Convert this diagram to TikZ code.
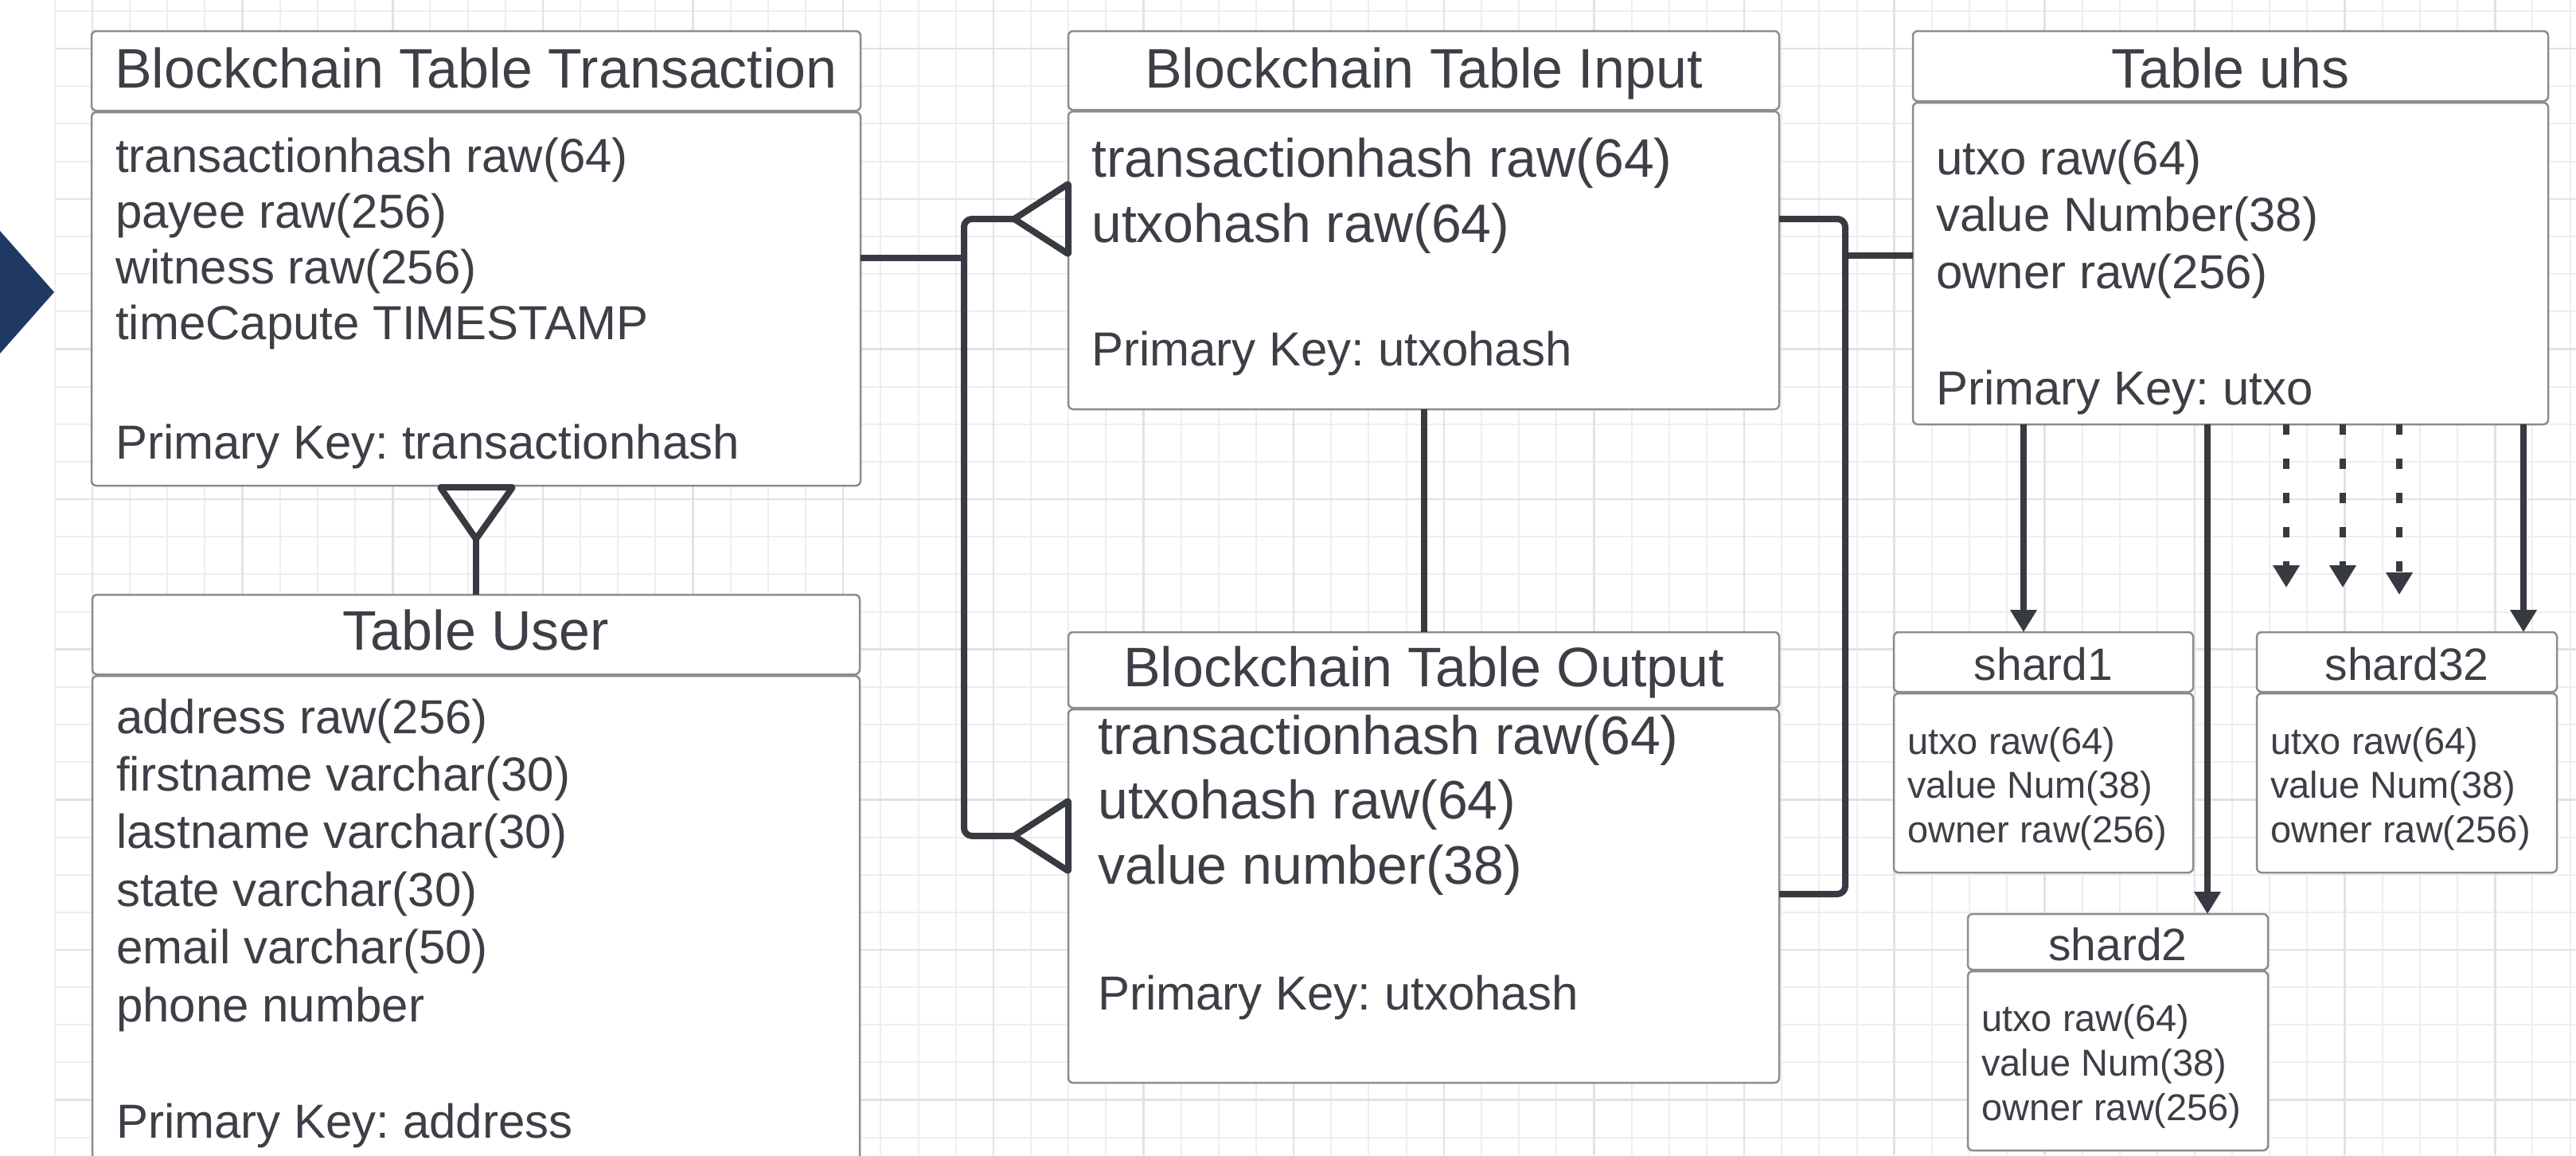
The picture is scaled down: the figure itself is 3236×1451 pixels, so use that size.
\documentclass[tikz,border=0pt]{standalone}
\usepackage{fontspec}
\setmainfont{Liberation Sans}
\usetikzlibrary{arrows.meta}
\frenchspacing

\definecolor{ink}{RGB}{60,63,70}
\definecolor{linecol}{RGB}{55,58,65}
\definecolor{boxline}{RGB}{140,140,140}
\definecolor{gridminor}{RGB}{238,238,238}
\definecolor{gridmajor}{RGB}{226,226,226}
\definecolor{navy}{RGB}{31,56,100}

\tikzset{
  tbox/.style={draw=boxline, line width=2.5pt, fill=white, rounded corners=6pt,
    anchor=north west, inner sep=0pt, outer sep=0pt},
  ttl/.style={text=ink, anchor=base, inner sep=0pt, font=\fontsize{70}{84}\selectfont},
  fld/.style={text=ink, anchor=base west, inner sep=0pt, font=\fontsize{60}{72}\selectfont},
  fldL/.style={fld, font=\fontsize{68}{82}\selectfont},
  sttl/.style={ttl, font=\fontsize{57}{68}\selectfont},
  sfld/.style={fld, font=\fontsize{47}{56}\selectfont},
  conn/.style={draw=linecol, line width=8pt, rounded corners=10pt, line join=round},
  crow/.style={conn, rounded corners=1pt},
  arr/.style={conn, -{Triangle[width=32pt,length=28pt]}},
  darr/.style={arr, dash pattern=on 13pt off 30pt},
}

\begin{document}
\begin{tikzpicture}[x=1pt, y=-1pt]
\useasboundingbox (0,0) rectangle (3236,1451);
\clip (0,0) rectangle (3236,1451);
\fill[white] (0,0) rectangle (3236,1451);

% background grid
\foreach \k in {-1,...,66}
  \draw[gridminor, line width=2pt] ({116+47.16*\k},0) -- ({116+47.16*\k},1451);
\foreach \k in {0,...,30}
  \draw[gridminor, line width=2pt] (69,{14+47.16*\k}) -- (3236,{14+47.16*\k});
\foreach \m in {0,...,16}
  \draw[gridmajor, line width=2.5pt] ({116+188.64*\m},0) -- ({116+188.64*\m},1451);
\foreach \m in {0,...,7}
  \draw[gridmajor, line width=2.5pt] (69,{61.16+188.64*\m}) -- (3236,{61.16+188.64*\m});

% navigation chevron at the left edge
\fill[navy] (0,290) -- (68,367) -- (0,444) -- cycle;

% ---- Blockchain Table Transaction
\node[tbox, minimum width=966pt, minimum height=100pt] (tx-h) at (115,39) {};
\node[tbox, minimum width=966pt, minimum height=469pt] (tx-b) at (115,141) {};
\node[ttl] (tx-t) at (tx-h.center |- 0,110) {Blockchain Table Transaction};
\foreach \t [count=\i from 0] in {transactionhash raw(64), payee raw(256), witness raw(256), timeCapute TIMESTAMP}
  \node[fld] (tx-f\i) at (145,{216+70.3*\i}) {\t};
\node[fld] (tx-pk) at (145,576) {Primary Key: transactionhash};

% ---- Table User
\node[tbox, minimum width=964pt, minimum height=100pt] (us-h) at (116,747) {};
\node[tbox, minimum width=964pt, minimum height=700pt] (us-b) at (116,849) {};
\node[ttl] (us-t) at (us-h.center |- 0,816) {Table User};
\foreach \t [count=\i from 0] in {address raw(256), firstname varchar(30), lastname varchar(30), state varchar(30), email varchar(50), phone number}
  \node[fld] (us-f\i) at (146,{921+72.4*\i}) {\t};
\node[fld] (us-pk) at (146,1429) {Primary Key: address};

% ---- Blockchain Table Input
\node[tbox, minimum width=893pt, minimum height=99pt] (in-h) at (1342,39) {};
\node[tbox, minimum width=893pt, minimum height=374pt] (in-b) at (1342,140) {};
\node[ttl] (in-t) at (in-h.center |- 0,110) {Blockchain Table Input};
\foreach \t [count=\i from 0] in {transactionhash raw(64), utxohash raw(64)}
  \node[fldL] (in-f\i) at (1371,{222+82*\i}) {\t};
\node[fld] (in-pk) at (1371,459) {Primary Key: utxohash};

% ---- Blockchain Table Output
\node[tbox, minimum width=893pt, minimum height=95pt] (out-h) at (1342,794) {};
\node[tbox, minimum width=893pt, minimum height=469pt] (out-b) at (1342,891) {};
\node[ttl] (out-t) at (out-h.center |- 0,862) {Blockchain Table Output};
\foreach \t [count=\i from 0] in {transactionhash raw(64), utxohash raw(64), value number(38)}
  \node[fldL] (out-f\i) at (1379,{947+81.5*\i}) {\t};
\node[fld] (out-pk) at (1379,1268) {Primary Key: utxohash};

% ---- Table uhs
\node[tbox, minimum width=798pt, minimum height=88pt] (uhs-h) at (2403,39) {};
\node[tbox, minimum width=798pt, minimum height=404pt] (uhs-b) at (2403,129) {};
\node[ttl] (uhs-t) at (uhs-h.center |- 0,110) {Table uhs};
\foreach \t [count=\i from 0] in {utxo raw(64), value Number(38), owner raw(256)}
  \node[fld] (uhs-f\i) at (2432,{219+71.5*\i}) {\t};
\node[fld] (uhs-pk) at (2432,508) {Primary Key: utxo};

% ---- shards
\node[tbox, minimum width=376pt, minimum height=75pt] (s1-h) at (2379,794) {};
\node[tbox, minimum width=376pt, minimum height=225pt] (s1-b) at (2379,871) {};
\node[sttl] (s1-t) at (s1-h.center |- 0,854) {shard1};
\foreach \t [count=\i from 0] in {utxo raw(64), value Num(38), owner raw(256)}
  \node[sfld] (s1-f\i) at (2396,{947+55.5*\i}) {\t};

\node[tbox, minimum width=377pt, minimum height=75pt] (s32-h) at (2835,794) {};
\node[tbox, minimum width=377pt, minimum height=225pt] (s32-b) at (2835,871) {};
\node[sttl] (s32-t) at (s32-h.center |- 0,854) {shard32};
\foreach \t [count=\i from 0] in {utxo raw(64), value Num(38), owner raw(256)}
  \node[sfld] (s32-f\i) at (2852,{947+55.5*\i}) {\t};

\node[tbox, minimum width=377pt, minimum height=70pt] (s2-h) at (2472,1148) {};
\node[tbox, minimum width=377pt, minimum height=225pt] (s2-b) at (2472,1220) {};
\node[sttl] (s2-t) at (s2-h.center |- 0,1206) {shard2};
\foreach \t [count=\i from 0] in {utxo raw(64), value Num(38), owner raw(256)}
  \node[sfld] (s2-f\i) at (2489,{1295+56*\i}) {\t};

% ---- relationship lines
\coordinate (inApex) at (1274,275);
\coordinate (outApex) at (1274,1050);
\coordinate (userApex) at (598,677);

% transaction -> input / output (many side)
\draw[conn] (tx-b.east |- 0,324) -- (1211,324);
\draw[conn] (inApex) -- (1211,275) -- (1211,1050) -- (outApex);
\draw[crow] (in-b.west |- 0,231) -- (inApex) -- (in-b.west |- 0,319) -- cycle;
\draw[crow] (out-b.west |- 0,1006) -- (outApex) -- (out-b.west |- 0,1094) -- cycle;

% transaction -> user
\draw[crow] (553,612) -- (644,612) -- (userApex) -- cycle;
\draw[conn] (userApex) -- (us-h.north);

% input -- output
\draw[conn] (in-b.south) -- (out-h.north);

% input / output -> uhs
\draw[conn] (in-b.east |- 0,275) -- (2318,275) -- (2318,1123) -- (out-b.east |- 0,1123);
\draw[conn] (2318,321) -- (uhs-b.west |- 0,321);

% uhs -> shards
\draw[arr] (uhs-b.south -| 2542,0) -- (s1-h.north -| 2542,0);
\draw[arr] (uhs-b.south -| 2773,0) -- (s2-h.north -| 2773,0);
\draw[arr] (uhs-b.south -| 3170,0) -- (s32-h.north -| 3170,0);
\coordinate (d1) at (2872,738);
\coordinate (d2) at (2943,738);
\coordinate (d3) at (3014,747);
\draw[darr] (uhs-b.south -| d1) -- (d1);
\draw[darr] (uhs-b.south -| d2) -- (d2);
\draw[darr] (uhs-b.south -| d3) -- (d3);
\end{tikzpicture}
\end{document}
